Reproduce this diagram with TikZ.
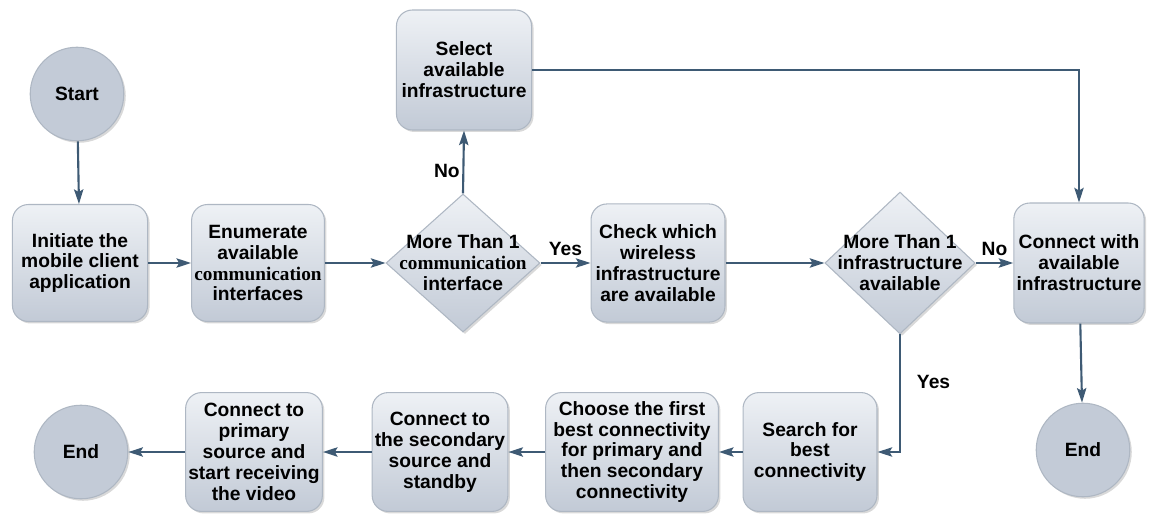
\documentclass[tikz,border=0pt]{standalone}
\usepackage{fontspec}
\setmainfont{Liberation Sans}
\newfontfamily\commfont{Liberation Serif}
\usetikzlibrary{arrows.meta,shapes.geometric,shadows}

\definecolor{flowline}{HTML}{3E5A74}
\definecolor{boxtop}{HTML}{EEF1F5}
\definecolor{boxbottom}{HTML}{C2CAD6}
\definecolor{boxedge}{HTML}{AEB7C3}
\definecolor{termfill}{HTML}{C3CBD7}

\tikzset{
    boxfont/.style = {font = {\fontsize{14.5}{15.8}\selectfont\bfseries}},
    procbox/.style = {rectangle, rounded corners = 12pt, draw = boxedge, line width = 0.8pt,
        top color = boxtop, bottom color = boxbottom, align = center, boxfont, inner sep = 2pt,
        minimum height = 3.15cm,
        drop shadow = {shadow xshift = 1.5pt, shadow yshift = -1.5pt, opacity = 0.3}},
    terminal/.style = {circle, draw = boxedge, line width = 0.8pt, fill = termfill, boxfont,
        inner sep = 0pt, minimum size = 2.48cm,
        drop shadow = {shadow xshift = 1.5pt, shadow yshift = -1.5pt, opacity = 0.3}},
    decision/.style = {diamond, draw = boxedge, line width = 0.8pt, top color = boxtop,
        bottom color = boxbottom, inner sep = 0pt,
        drop shadow = {shadow xshift = 1.5pt, shadow yshift = -1.5pt, opacity = 0.3}},
    dtext/.style = {align = center, boxfont, inner sep = 0pt},
    flow/.style = {draw = flowline, line width = 1.6pt,
        -{Stealth[length = 11pt, width = 7pt, inset = 2pt]}},
    lbl/.style = {boxfont, inner sep = 2pt}
}

\begin{document}
\begin{tikzpicture}[x = 0.0265cm, y = -0.0265cm]
    \useasboundingbox (0, 0) rectangle (1151, 513);

    % top row
    \node[terminal] (start) at (77, 94) {Start};
    \node[procbox, minimum width = 3.58cm, minimum height = 3.1cm] (init) at (80, 263)
        {Initiate the\\mobile client\\application};
    \node[procbox, minimum width = 3.52cm, minimum height = 3.1cm] (enum) at (258, 263)
        {Enumerate\\available\\{\commfont communication}\\interfaces};
    \node[decision, minimum width = 4.08cm, minimum height = 3.66cm] (q1) at (463, 263) {};
    \node[dtext] (q1txt) at (q1) {More Than 1\\{\commfont communication}\\interface};
    \node[procbox, minimum width = 3.58cm, minimum height = 3.18cm] (sel) at (464, 70)
        {Select\\available\\infrastructure};
    \node[procbox, minimum width = 3.55cm, minimum height = 3.13cm] (check) at (658, 263)
        {Check which\\wireless\\infrastructure\\are available};
    \node[decision, minimum width = 3.98cm, minimum height = 3.76cm] (q2) at (900, 263) {};
    \node[dtext] (q2txt) at (q2) {More Than 1\\infrastructure\\available};
    \node[procbox, minimum width = 3.39cm, minimum height = 3.18cm] (conn) at (1079, 263)
        {Connect with\\available\\infrastructure};
    \node[terminal] (end1) at (1083, 450) {End};

    % bottom row
    \node[procbox, minimum width = 3.55cm] (search) at (810, 452)
        {Search for\\best\\connectivity};
    \node[procbox, minimum width = 4.58cm] (choose) at (632, 452)
        {Choose the first\\best connectivity\\for primary and\\then secondary\\connectivity};
    \node[procbox, minimum width = 3.58cm] (second) at (440, 452)
        {Connect to\\the secondary\\source and\\standby};
    \node[procbox, minimum width = 3.58cm] (primary) at (254, 452)
        {Connect to\\primary\\source and\\start receiving\\the video};
    \node[terminal] (end2) at (81, 452) {End};

    % connectors
    \draw[flow] (start) -- (init);
    \draw[flow] (init) -- (enum);
    \draw[flow] (enum) -- (q1.west);
    \draw[flow] (q1.north) -- node[lbl, left, pos = 0.35] (no1) {No} (sel.south);
    \draw[flow] (q1.east) -- node[lbl, above = 3pt] (yes1) {Yes} (check.west);
    \draw[flow] (check) -- (q2.west);
    \draw[flow] (q2.east) -- node[lbl, above = 3pt] (no2) {No} (conn.west);
    \draw[flow] (sel.east) -| (conn.north);
    \draw[flow] (conn) -- (end1);
    \draw[flow] (q2.south) |- node[lbl, right = 10pt, pos = 0.2] (yes2) {Yes} (search.east);
    \draw[flow] (search) -- (choose);
    \draw[flow] (choose) -- (second);
    \draw[flow] (second) -- (primary);
    \draw[flow] (primary) -- (end2);
\end{tikzpicture}
\end{document}
